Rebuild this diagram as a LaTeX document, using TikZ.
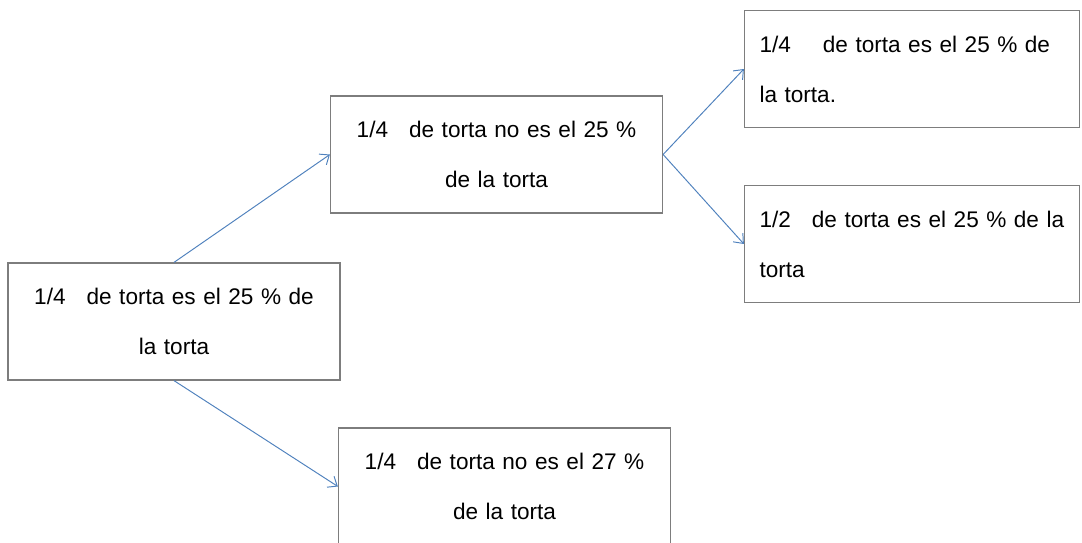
\documentclass[tikz,border=0pt]{standalone}
\usepackage{fontspec}
\setmainfont{Liberation Sans}
\usetikzlibrary{arrows.meta}
\definecolor{azul}{RGB}{79,129,189}
\definecolor{borde}{RGB}{125,125,125}
\tikzset{
  caja/.style={draw=borde, line width=0.7pt, inner xsep=0.3cm, inner ysep=0pt,
    minimum height=2.34cm, font=\fontsize{12.85}{28.5}\selectfont},
  centro/.style={caja, text width=6.04cm, align=center},
  izq/.style={caja, text width=6.1cm, align=left},
  flecha/.style={draw=azul, line width=0.55pt, -{Straight Barb[length=1.6mm,width=2.6mm]}}
}
\begin{document}
\begin{tikzpicture}
  \useasboundingbox (0,0) rectangle (21.64,-10.86);
  \draw
    (3.48,-6.43) node[centro] (0){1/4\hspace{0.42cm}de torta es el 25 \% de\\la torta}
    (9.93,-3.09) node[centro] (1){1/4\hspace{0.42cm}de torta no es el 25 \%\\de la torta}
    (10.09,-9.73) node[centro] (2){1/4\hspace{0.42cm}de torta no es el 27 \%\\de la torta}
    (18.24,-1.38) node[izq] (3){1/4\hspace{0.64cm}de torta es el 25 \% de\\la torta.}
    (18.24,-4.88) node[izq] (4){1/2\hspace{0.42cm}de torta es el 25 \% de la\\torta};
  \begin{scope}[flecha]
    \draw (0.north) to (1.west);
    \draw (0.south) to (2.west);
    \draw (1.east) to (3.west);
    \draw (1.east) to (4.west);
  \end{scope}
\end{tikzpicture}
\end{document}
